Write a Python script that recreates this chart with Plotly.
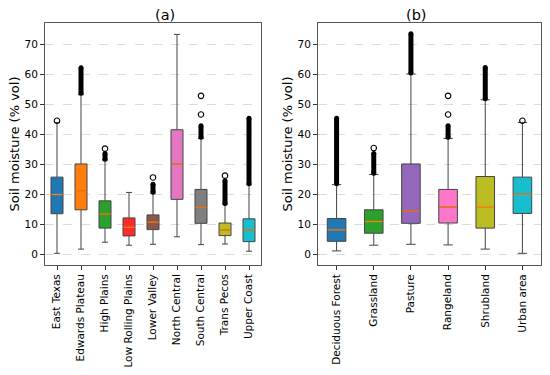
import plotly.graph_objects as go

# ---------------- data (a) ----------------
cats_a = ["East Texas", "Edwards Plateau", "High Plains", "Low Rolling Plains", "Lower Valley",
          "North Central", "South Central", "Trans Pecos", "Upper Coast"]
q1_a = [13.5, 14.8, 8.7, 6.1, 8.2, 18.3, 10.3, 6.2, 4.2]
med_a = [19.9, 21.0, 13.4, 9.0, 10.7, 30.1, 15.7, 8.0, 8.1]
q3_a = [25.7, 30.1, 17.8, 12.1, 13.1, 41.5, 21.6, 10.4, 11.8]
lo_a = [0.3, 1.7, 4.0, 3.0, 3.3, 5.8, 3.2, 3.4, 1.0]
hi_a = [43.9, 53.2, 31.4, 20.6, 20.4, 73.3, 38.6, 16.7, 23.2]
dense_lo_a = [None, 53.7, 31.7, None, 20.7, None, 39.0, 16.9, 23.5]
dense_hi_a = [None, 62.2, 33.6, None, 23.3, None, 42.8, 24.5, 45.3]
sparse_a = [[44.5], [], [35.2], [], [25.6], [], [46.6, 52.8], [26.2], []]
colors_a = ["#1f77b4", "#ff7f0e", "#2ca02c", "#ff2a2a", "#8c564b",
            "#e377c2", "#7f7f7f", "#bcbd22", "#17becf"]

# ---------------- data (b) ----------------
cats_b = ["Deciduous Forest", "Grassland", "Pasture", "Rangeland", "Shrubland", "Urban area"]
q1_b = [4.3, 7.0, 10.3, 10.4, 8.7, 13.6]
med_b = [8.1, 10.9, 14.4, 15.7, 15.6, 20.0]
q3_b = [11.9, 14.8, 30.1, 21.6, 25.9, 25.7]
lo_b = [1.1, 3.0, 3.3, 3.1, 1.7, 0.3]
hi_b = [23.2, 26.6, 60.1, 38.6, 51.5, 43.9]
dense_lo_b = [23.5, 27.0, 60.4, 39.0, 51.8, None]
dense_hi_b = [45.3, 33.6, 73.5, 42.8, 62.3, None]
sparse_b = [[], [35.4], [], [46.6, 52.8], [], [44.5]]
colors_b = ["#1f77b4", "#2ca02c", "#9467bd", "#ff77c8", "#bcbd22", "#17becf"]

fig = go.Figure()


def add_panel(cats, q1, med, q3, lo, hi, dlo, dhi, sparse, colors, xa, ya):
    for i, c in enumerate(cats):
        pos = i + 1
        fig.add_trace(go.Box(
            x=[pos], q1=[q1[i]], median=[med[i]], q3=[q3[i]],
            lowerfence=[lo[i]], upperfence=[hi[i]],
            fillcolor=colors[i], line=dict(color="#444444", width=1),
            width=0.5, whiskerwidth=0.5, boxpoints=False,
            xaxis=xa, yaxis=ya, showlegend=False, hoverinfo="skip"))
        # median line
        fig.add_trace(go.Scatter(
            x=[pos - 0.24, pos + 0.24], y=[med[i], med[i]], mode="lines",
            line=dict(color="#ff7f0e", width=1.3), xaxis=xa, yaxis=ya,
            showlegend=False, hoverinfo="skip"))
        # dense outliers
        if dlo[i] is not None:
            fig.add_trace(go.Scatter(
                x=[pos, pos], y=[dlo[i], dhi[i]], mode="lines+markers",
                line=dict(color="black", width=5),
                marker=dict(symbol="circle", size=5, color="black"),
                xaxis=xa, yaxis=ya, showlegend=False, hoverinfo="skip"))
        if sparse[i]:
            fig.add_trace(go.Scatter(
                x=[pos] * len(sparse[i]), y=sparse[i], mode="markers",
                marker=dict(symbol="circle-open", size=5.5, color="black",
                            line=dict(width=1.1)),
                xaxis=xa, yaxis=ya, showlegend=False, hoverinfo="skip"))


add_panel(cats_a, q1_a, med_a, q3_a, lo_a, hi_a, dense_lo_a, dense_hi_a, sparse_a, colors_a, "x", "y")
add_panel(cats_b, q1_b, med_b, q3_b, lo_b, hi_b, dense_lo_b, dense_hi_b, sparse_b, colors_b, "x2", "y2")

font = "DejaVu Sans"
W = 541.0  # plot width with r margin = 9
xcommon = dict(tickangle=-90, ticks="outside", ticklen=4, tickcolor="#333",
               showline=True, linecolor="#555", mirror=True, showgrid=False,
               zeroline=False, automargin=False,
               tickfont=dict(family=font, size=10.5, color="black"))
ycommon = dict(range=[-3.6, 77.1], tickvals=[0, 10, 20, 30, 40, 50, 60, 70],
               ticks="outside", ticklen=4, tickcolor="#333",
               showline=True, linecolor="#555", mirror=True,
               showgrid=True, gridcolor="#dcdcdc", griddash="dash", gridwidth=1,
               zeroline=False, automargin=False,
               tickfont=dict(family=font, size=10.5, color="black"),
               title=dict(text="Soil moisture (% vol)", font=dict(family=font, size=13, color="black"),
                          standoff=1))

fig.update_layout(
    width=550, height=375,
    margin=dict(l=0, r=9, t=23, b=110, autoexpand=False),
    paper_bgcolor="white", plot_bgcolor="white",
    xaxis=dict(domain=[45 / W, 261 / W], range=[0.5, len(cats_a) + 0.5],
               tickvals=list(range(1, len(cats_a) + 1)), ticktext=cats_a, anchor="y", **xcommon),
    yaxis=dict(domain=[0, 1], anchor="x", **ycommon),
    xaxis2=dict(domain=[318 / W, 1.0], range=[0.5, len(cats_b) + 0.5],
                tickvals=list(range(1, len(cats_b) + 1)), ticktext=cats_b, anchor="y2", **xcommon),
    yaxis2=dict(domain=[0, 1], anchor="x2", **ycommon),
    annotations=[
        dict(text="(a)", x=(45 + 261) / 2 / W, y=1, yshift=8, xref="paper", yref="paper",
             yanchor="middle", showarrow=False, font=dict(family=font, size=14.5, color="black")),
        dict(text="(b)", x=(318 + 541) / 2 / W, y=1, yshift=8, xref="paper", yref="paper",
             yanchor="middle", showarrow=False, font=dict(family=font, size=14.5, color="black")),
    ],
)

fig.write_html("out.html", config={"displayModeBar": False},
               post_script="document.body.style.margin='0px';document.body.style.padding='0px';")
